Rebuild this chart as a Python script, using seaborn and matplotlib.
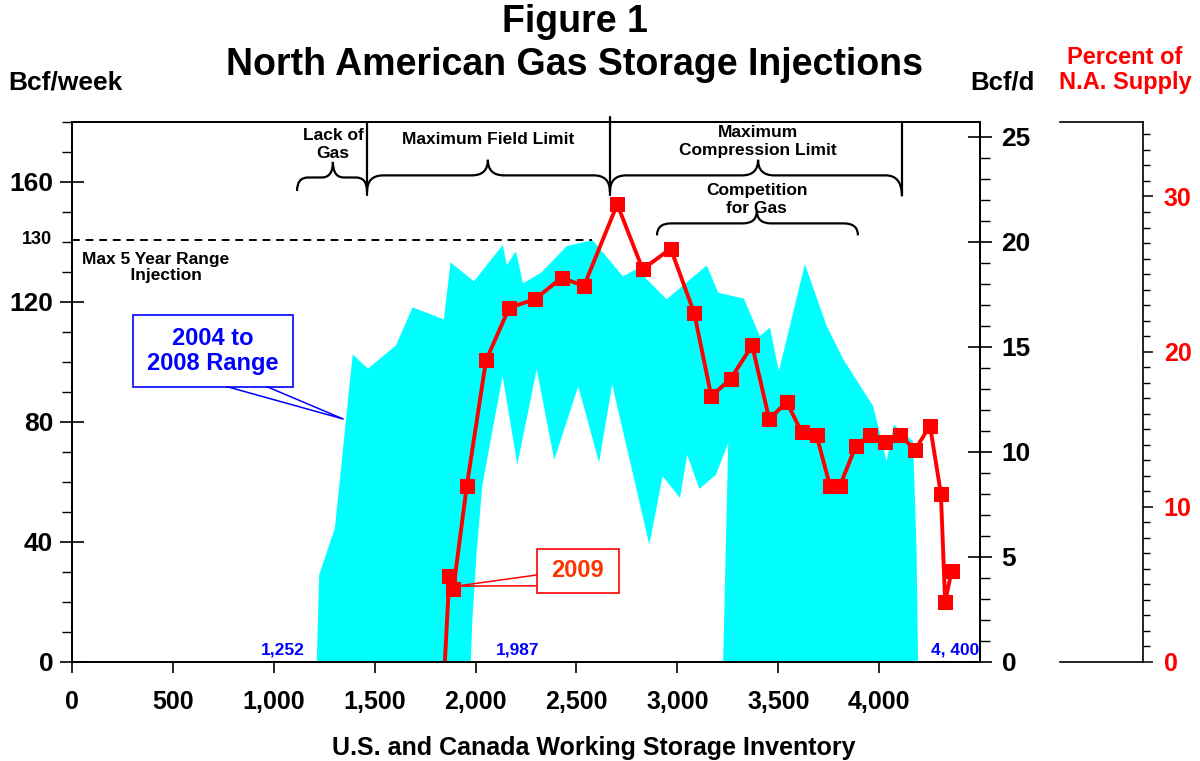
import numpy as np
import pandas as pd
import seaborn as sns
import matplotlib.pyplot as plt
from matplotlib.path import Path
from matplotlib.patches import PathPatch, Rectangle
from matplotlib.ticker import MultipleLocator, FuncFormatter


# =========================
# DATA
# =========================
# 2004-2008 range: upper edge (left to right)
RANGE_UPPER_X = [1213, 1225, 1303, 1391, 1467, 1605, 1688, 1843, 1876, 1992,
                 2135, 2155, 2200, 2235, 2327, 2452, 2580, 2731, 2798, 2947,
                 3146, 3202, 3330, 3409, 3459, 3503, 3632, 3740, 3823, 3971,
                 4037, 4073, 4168, 4185, 4193]
RANGE_UPPER_Y = [0, 29, 44.7, 102.5, 97.8, 105.5, 118.2, 114.2, 133.2, 126.9,
                 139, 132.3, 136.9, 126.2, 129.9, 138.6, 140.6, 128.5, 131, 120.9,
                 132.2, 123.1, 121.1, 108.6, 111.5, 96.9, 132.6, 112, 100.8, 85.2,
                 66.9, 79.1, 73.6, 38.5, 0]

# 2004-2008 range: lower edge (left to right)
RANGE_LOWER_X = [1213, 1976, 1984, 2005, 2033, 2063, 2134, 2207, 2303, 2390,
                 2509, 2612, 2677, 2861, 2927, 3013, 3049, 3109, 3191, 3252,
                 3227, 4193]
RANGE_LOWER_Y = [0, 0, 14, 36.3, 58.5, 69.7, 95.3, 65.8, 97.5, 67.4,
                 91.9, 66.5, 92.5, 39.1, 61.9, 54.7, 69.1, 57.7, 62.4, 73,
                 0, 0]

# 2009 weekly injections vs inventory
INV_2009 = [1840, 1870, 1890, 1956, 2052, 2167, 2294, 2427, 2537, 2702,
            2828, 2967, 3084, 3168, 3264, 3371, 3455, 3542, 3616, 3690,
            3756, 3806, 3884, 3954, 4029, 4103, 4177, 4252, 4306, 4327, 4359]
INJ_2009 = [-10, 28.5, 24.4, 58.5, 100.6, 118.1, 120.9, 128.1, 125.3, 152.6,
            130.9, 137.8, 116.2, 88.6, 94.4, 105.5, 81, 86.6, 76.6, 75.5,
            58.8, 58.8, 71.9, 75.8, 73.4, 75.8, 70.6, 78.8, 56.1, 20.1, 30.3]

X_TICKS = [0, 500, 1000, 1500, 2000, 2500, 3000, 3500, 4000]
WEEK_TICKS = [0, 40, 80, 120, 160]
DAY_TICKS = [0, 5, 10, 15, 20, 25]
PCT_TICKS = [0, 10, 20, 30]

MAX_RANGE_LINE = 140.7

CYAN = "#00FFFF"
RED = "#FF0000"
BLUE = "#0000FF"
ORANGE_RED = "#FF3300"
FONT = "Liberation Sans"


def draw_brace(ax, x0, x1, xc, y, d_left, d_tip, d_right, rx):
    """Curly brace with tip pointing up, in data coordinates."""
    verts = [(x0, y - d_left), (x0, y), (x0 + rx, y),
             (xc - rx, y), (xc, y), (xc, y + d_tip),
             (xc, y), (xc + rx, y),
             (x1 - rx, y), (x1, y), (x1, y - d_right)]
    codes = [Path.MOVETO, Path.CURVE3, Path.CURVE3,
             Path.LINETO, Path.CURVE3, Path.CURVE3,
             Path.CURVE3, Path.CURVE3,
             Path.LINETO, Path.CURVE3, Path.CURVE3]
    ax.add_patch(PathPatch(Path(verts, codes), facecolor="none",
                           edgecolor="black", lw=1.6, clip_on=False))


def main():
    sns.set_theme(style="white")
    plt.rcParams["font.family"] = [FONT, "DejaVu Sans"]
    plt.rcParams["font.weight"] = "bold"
    plt.rcParams["text.color"] = "black"
    plt.rcParams["axes.labelcolor"] = "black"
    plt.rcParams["xtick.color"] = "black"
    plt.rcParams["ytick.color"] = "black"

    fig = plt.figure(figsize=(12, 7.61), dpi=100)
    fig.patch.set_facecolor("white")

    ax = fig.add_axes([0.06, 0.1301, 0.7567, 0.7096])
    ax.set_facecolor("white")

    # range polygon
    poly_x = RANGE_UPPER_X + RANGE_LOWER_X[::-1]
    poly_y = RANGE_UPPER_Y + RANGE_LOWER_Y[::-1]
    ax.fill(poly_x, poly_y, color=CYAN, lw=0, zorder=1)

    # 2009 line
    df = pd.DataFrame({"inventory": INV_2009, "injection": INJ_2009})
    sns.lineplot(data=df, x="inventory", y="injection", ax=ax, sort=False,
                 color=RED, lw=2.8, marker="s", markersize=9.5,
                 markeredgecolor=RED, markerfacecolor=RED, zorder=5)

    ax.set_xlim(0, 4500)
    ax.set_ylim(0, 180)
    ax.set_xlabel("")
    ax.set_ylabel("")

    for s in ax.spines.values():
        s.set_visible(True)
        s.set_color("black")
        s.set_linewidth(1.3)

    ax.set_xticks(X_TICKS)
    ax.xaxis.set_major_formatter(FuncFormatter(lambda v, p: f"{int(v):,}"))
    ax.set_yticks(WEEK_TICKS)
    ax.yaxis.set_minor_locator(MultipleLocator(10))
    ax.tick_params(axis="x", which="major", direction="out", length=8,
                   width=1.2, labelsize=18, pad=12, bottom=True)
    ax.tick_params(axis="y", which="major", direction="inout", length=17,
                   width=1.2, labelsize=19, pad=5, left=True)
    ax.tick_params(axis="y", which="minor", direction="out", length=7,
                   width=1.0, left=True)
    for lab in ax.get_xticklabels() + ax.get_yticklabels():
        lab.set_fontweight("bold")

    # Bcf/d axis
    ax2 = ax.twinx()
    ax2.set_ylim(0, 180 / 7)
    ax2.set_yticks(DAY_TICKS)
    ax2.yaxis.set_minor_locator(MultipleLocator(1))
    ax2.tick_params(axis="y", which="major", direction="inout", length=17,
                    width=1.2, labelsize=19, pad=7, right=True)
    ax2.tick_params(axis="y", which="minor", direction="out", length=7,
                    width=1.0, right=True)
    for lab in ax2.get_yticklabels():
        lab.set_fontweight("bold")
    for s in ax2.spines.values():
        s.set_color("black")
        s.set_linewidth(1.3)

    # Percent of supply axis
    ax3 = fig.add_axes([1060 / 1200, 0.1301, 83 / 1200, 0.7096])
    ax3.set_facecolor("none")
    ax3.set_ylim(0, 34.8)
    ax3.set_xticks([])
    ax3.yaxis.tick_right()
    ax3.set_yticks(PCT_TICKS)
    ax3.yaxis.set_minor_locator(MultipleLocator(1))
    ax3.spines["left"].set_visible(False)
    for side in ["top", "bottom", "right"]:
        ax3.spines[side].set_color("black")
        ax3.spines[side].set_linewidth(1.2)
    ax3.tick_params(axis="y", which="major", direction="out", length=7,
                    width=1.1, labelsize=18, pad=8, colors="black",
                    labelcolor=RED)
    ax3.tick_params(axis="y", which="minor", direction="out", length=5,
                    width=1.0)
    for lab in ax3.get_yticklabels():
        lab.set_fontweight("bold")

    # dashed max line
    ax.plot([0, 2575], [MAX_RANGE_LINE, MAX_RANGE_LINE], ls=(0, (4, 3)),
            color="black", lw=1.4, zorder=3)
    ax.text(-99, MAX_RANGE_LINE, "130", ha="right", va="center",
            fontsize=13, fontweight="bold")
    ax.text(416, 131.4, "Max 5 Year Range\n    Injection", ha="center",
            va="center", fontsize=12.5, fontweight="bold", linespacing=1.05)

    # braces and region separators
    for xv, ytop in [(1462, 180), (2666, 181.5), (4113, 180)]:
        ax.plot([xv, xv], [ytop, 155.5], color="black", lw=1.6,
                clip_on=False, zorder=4)
    draw_brace(ax, 1115, 1462, 1293, 161.5, 4.5, 5.2, 4.5, 55)
    draw_brace(ax, 1462, 2666, 2061, 162.2, 5.5, 5.2, 5.5, 80)
    draw_brace(ax, 2666, 4113, 3400, 162.2, 5.5, 5.2, 7.0, 80)
    draw_brace(ax, 2899, 3895, 3394, 146.2, 4.0, 4.2, 4.0, 70)

    ax.text(1293, 172.5, "Lack of\nGas", ha="center", va="center",
            fontsize=12.5, fontweight="bold", linespacing=1.25)
    ax.text(2061, 174.3, "Maximum Field Limit", ha="center", va="center",
            fontsize=12.5, fontweight="bold")
    ax.text(3400, 173.4, "Maximum\nCompression Limit", ha="center",
            va="center", fontsize=12.5, fontweight="bold", linespacing=1.25)
    ax.text(3394, 154.1, "Competition\nfor Gas", ha="center", va="center",
            fontsize=12.5, fontweight="bold", linespacing=1.25, zorder=6)

    # 2004-2008 callout
    ax.add_patch(Rectangle((302, 91.8), 793, 23.7, facecolor="white",
                           edgecolor=BLUE, lw=1.2, zorder=6))
    ax.plot([767, 1344, 965], [91.8, 81.0, 91.8], color=BLUE, lw=1.1,
            zorder=6)
    ax.text(699, 103.6, "2004 to\n2008 Range", ha="center", va="center",
            fontsize=17, fontweight="bold", color=BLUE, zorder=7,
            linespacing=1.1)

    # 2009 callout
    ax.add_patch(Rectangle((2303, 23.1), 408, 14.5, facecolor="white",
                           edgecolor=RED, lw=1.2, zorder=6))
    ax.plot([2303, 1906, 2303], [29.0, 25.3, 25.4], color=RED, lw=1.1,
            zorder=6)
    ax.text(2507, 30.4, "2009", ha="center", va="center", fontsize=17,
            fontweight="bold", color=ORANGE_RED, zorder=7)

    # inventory labels
    for xv, txt in [(1046, "1,252"), (2210, "1,987"), (4376, "4, 400")]:
        ax.text(xv, 3.9, txt, ha="center", va="center", fontsize=12.5,
                fontweight="bold", color=BLUE, zorder=7)

    # titles and axis headers
    fig.text(575 / 1200, 1 - 22 / 761, "Figure 1", ha="center", va="center",
             fontsize=27, fontweight="bold")
    fig.text(575 / 1200, 1 - 65 / 761, "North American Gas Storage Injections",
             ha="center", va="center", fontsize=27, fontweight="bold")
    fig.text(65 / 1200, 1 - 82 / 761, "Bcf/week", ha="center", va="center",
             fontsize=19, fontweight="bold")
    fig.text(1002 / 1200, 1 - 82 / 761, "Bcf/d", ha="center", va="center",
             fontsize=18.5, fontweight="bold")
    fig.text(1125 / 1200, 1 - 70 / 761, "Percent of\nN.A. Supply",
             ha="center", va="center", fontsize=17, fontweight="bold",
             color=RED, linespacing=1.1)
    fig.text(594 / 1200, 1 - 748 / 761,
             "U.S. and Canada Working Storage Inventory", ha="center",
             va="center", fontsize=18, fontweight="bold")

    fig.savefig("out.png", dpi=100, facecolor="white")
    plt.close(fig)


if __name__ == "__main__":
    main()
